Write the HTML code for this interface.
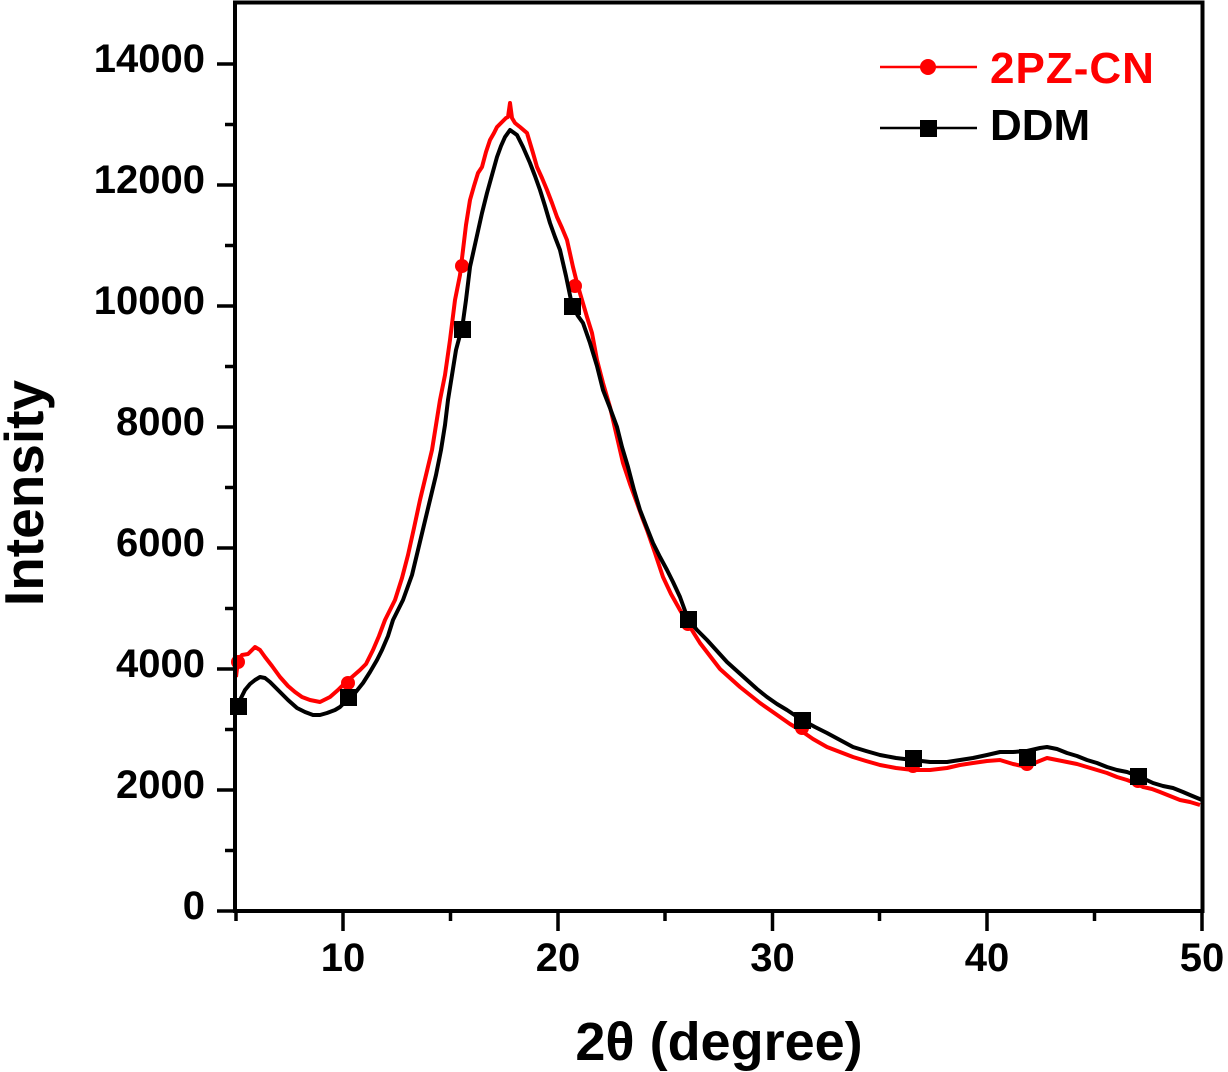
<!DOCTYPE html>
<html>
<head>
<meta charset="utf-8">
<style>
html,body{margin:0;padding:0;background:#fff;}
svg{display:block;}
text{font-family:"Liberation Sans",Arial,sans-serif;font-weight:bold;}
</style>
</head>
<body>
<svg width="1228" height="1072" viewBox="0 0 1228 1072" xmlns="http://www.w3.org/2000/svg">
<rect x="0" y="0" width="1228" height="1072" fill="#fff"/>

<!-- red series 2PZ-CN -->
<polyline fill="none" stroke="#ff0000" stroke-width="4" stroke-linejoin="round" points="
236,677 238,660 242,655 248,654 255,647 260,650 265,657 272,666 280,677 288,686 295,692 302,697 310,700 320,702 330,697 338,690 345,683 352,677 360,670 366,664 373,650 379,636 385,620 395,600 402,578 408,555 414,528 420,500 426,475 432,450 436,425 440,400 445,375 450,340 455,300 460,275 463,250 466,225 470,200 474,186 478,173 482,167 486,152 490,140 494,133 497,127 502,122 506,118 508,117 510,103 512,118 515,123 520,127 527,133 533,153 537,167 542,178 547,190 552,203 557,217 562,228 567,240 573,267 577,283 582,300 587,317 592,333 597,360 603,383 610,407 617,437 623,463 630,484 637,503 642,517 647,530 655,553 663,577 671,594 680,610 690,627 700,643 710,656 720,669 730,678 740,687 750,695 760,703 770,710 780,717 790,724 800,730 813,739 827,747 840,752 853,757 866,761 880,765 896,768 913,770 930,770 947,768 960,765 973,763 987,761 1000,760 1013,764 1027,767 1037,762 1047,758 1057,760 1067,762 1077,764 1087,767 1097,770 1107,773 1117,777 1127,780 1135,783 1143,787 1152,789 1160,792 1170,796 1180,800 1190,802 1200,805"/>
<g fill="#ff0000">
<circle cx="238" cy="662" r="7"/>
<circle cx="348" cy="683" r="7"/>
<circle cx="462" cy="266" r="7"/>
<circle cx="575" cy="286" r="7"/>
<circle cx="688" cy="624" r="7"/>
<circle cx="802" cy="728" r="7"/>
<circle cx="913" cy="766" r="7"/>
<circle cx="1027" cy="764" r="7"/>
<circle cx="1138" cy="781" r="7"/>
</g>

<!-- black series DDM -->
<polyline fill="none" stroke="#000" stroke-width="4" stroke-linejoin="round" points="
236,712 240,700 245,690 250,684 255,680 260,677 265,678 270,682 275,687 280,692 288,700 297,708 305,712 313,715 320,715 327,713 335,710 340,707 348,699 355,693 363,683 370,672 377,660 382,650 388,636 393,620 403,600 412,575 418,550 424,525 430,500 436,475 441,450 445,425 448,400 452,375 456,350 460,335 462,329 466,300 470,267 476,240 482,213 487,193 492,175 497,157 501,146 505,137 510,130 517,135 523,147 530,163 535,176 540,190 545,206 550,223 555,237 560,250 566,276 572,305 578,316 583,323 590,343 597,366 603,390 610,408 617,427 622,447 628,467 634,490 640,510 647,528 653,543 660,557 667,570 673,582 680,597 688,619 697,630 707,640 717,651 727,662 737,671 747,680 757,689 767,697 777,704 787,710 802,720 815,727 827,733 840,740 853,747 866,751 880,755 896,758 913,760 930,762 947,762 960,760 973,758 987,755 1000,752 1013,752 1027,751 1040,748 1047,747 1057,749 1067,753 1077,756 1087,760 1097,763 1107,767 1117,770 1127,772 1138,776 1153,783 1163,786 1173,788 1183,792 1190,795 1202,800"/>
<g fill="#000">
<rect x="230" y="698" width="17" height="17"/>
<rect x="340" y="689" width="17" height="17"/>
<rect x="454" y="321" width="17" height="17"/>
<rect x="564" y="298" width="17" height="17"/>
<rect x="680" y="611" width="17" height="17"/>
<rect x="794" y="712" width="17" height="17"/>
<rect x="905" y="750" width="17" height="17"/>
<rect x="1019" y="749" width="17" height="17"/>
<rect x="1130" y="768" width="17" height="17"/>
</g>

<!-- frame -->
<rect x="235" y="2.5" width="967.5" height="908.5" fill="none" stroke="#000" stroke-width="4"/>

<!-- y ticks -->
<g stroke="#000" stroke-width="3.5">
<line x1="217" y1="911" x2="235" y2="911"/>
<line x1="217" y1="790" x2="235" y2="790"/>
<line x1="217" y1="669" x2="235" y2="669"/>
<line x1="217" y1="548" x2="235" y2="548"/>
<line x1="217" y1="427" x2="235" y2="427"/>
<line x1="217" y1="306" x2="235" y2="306"/>
<line x1="217" y1="185" x2="235" y2="185"/>
<line x1="217" y1="64" x2="235" y2="64"/>
<line x1="225" y1="850.5" x2="235" y2="850.5"/>
<line x1="225" y1="729.5" x2="235" y2="729.5"/>
<line x1="225" y1="608.5" x2="235" y2="608.5"/>
<line x1="225" y1="487.5" x2="235" y2="487.5"/>
<line x1="225" y1="366.5" x2="235" y2="366.5"/>
<line x1="225" y1="245.5" x2="235" y2="245.5"/>
<line x1="225" y1="124.5" x2="235" y2="124.5"/>
<!-- x ticks -->
<line x1="343" y1="911" x2="343" y2="931"/>
<line x1="558" y1="911" x2="558" y2="931"/>
<line x1="772.5" y1="911" x2="772.5" y2="931"/>
<line x1="987" y1="911" x2="987" y2="931"/>
<line x1="1202" y1="911" x2="1202" y2="931"/>
<line x1="236" y1="911" x2="236" y2="921"/>
<line x1="450.5" y1="911" x2="450.5" y2="921"/>
<line x1="665" y1="911" x2="665" y2="921"/>
<line x1="879.5" y1="911" x2="879.5" y2="921"/>
<line x1="1094.5" y1="911" x2="1094.5" y2="921"/>
</g>

<!-- y tick labels -->
<g font-size="40" text-anchor="end" fill="#000">
<text x="205" y="919">0</text>
<text x="205" y="798">2000</text>
<text x="205" y="677">4000</text>
<text x="205" y="556">6000</text>
<text x="205" y="435">8000</text>
<text x="205" y="314">10000</text>
<text x="205" y="193">12000</text>
<text x="205" y="72">14000</text>
</g>
<!-- x tick labels -->
<g font-size="40" text-anchor="middle" fill="#000">
<text x="343" y="971">10</text>
<text x="558" y="971">20</text>
<text x="772.5" y="971">30</text>
<text x="987" y="971">40</text>
<text x="1202" y="971">50</text>
</g>

<!-- axis titles -->
<text x="719" y="1060" font-size="54" text-anchor="middle" fill="#000">2θ (degree)</text>
<text transform="translate(43,493) rotate(-90)" font-size="55" text-anchor="middle" fill="#000">Intensity</text>

<!-- legend -->
<line x1="880" y1="67" x2="977" y2="67" stroke="#ff0000" stroke-width="2.5"/>
<circle cx="928" cy="67" r="8" fill="#ff0000"/>
<text x="990" y="83" font-size="44" fill="#ff0000" letter-spacing="1">2PZ-CN</text>
<line x1="880" y1="128" x2="977" y2="128" stroke="#000" stroke-width="2.5"/>
<rect x="920" y="120" width="17" height="17" fill="#000"/>
<text x="990" y="140" font-size="44" fill="#000">DDM</text>
</svg>
</body>
</html>
